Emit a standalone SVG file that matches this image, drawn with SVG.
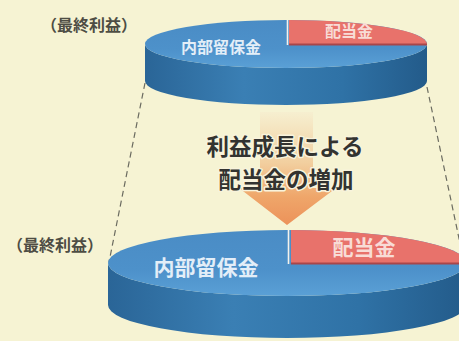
<svg xmlns="http://www.w3.org/2000/svg" width="459" height="341" viewBox="0 0 459 341">
<defs>
<linearGradient id="side" x1="0" y1="0" x2="1" y2="0">
<stop offset="0" stop-color="#2a6597"/>
<stop offset="0.35" stop-color="#3a7fb4"/>
<stop offset="0.7" stop-color="#2f72a6"/>
<stop offset="1" stop-color="#235b8a"/>
</linearGradient>
<linearGradient id="topface" x1="0" y1="0" x2="0" y2="1">
<stop offset="0" stop-color="#4a8cc5"/>
<stop offset="0.6" stop-color="#4d91ca"/>
<stop offset="1" stop-color="#5aa0d6"/>
</linearGradient>
<linearGradient id="arrowg" x1="0" y1="0" x2="0" y2="1">
<stop offset="0" stop-color="#f6efd0"/>
<stop offset="0.45" stop-color="#f2cf9f"/>
<stop offset="0.75" stop-color="#efa66a"/>
<stop offset="1" stop-color="#ec925a"/>
</linearGradient>
<style>
.bg{fill:#f6f3d3}
.side{fill:url(#side)}
.face{fill:url(#topface)}
.red{fill:#e8726b}
.redEdge{stroke:#a9464a;stroke-width:2}
.gap{stroke:#f4f2ec;stroke-width:1.6}
.dash{fill:none;stroke:#6b6b60;stroke-width:1.2;stroke-dasharray:6 4}
.cap{font-family:"Noto Sans CJK JP","Noto Sans CJK SC",sans-serif;font-weight:bold;font-size:16px;fill:#4e4d44}
.blueT{font-family:"Noto Sans CJK JP","Noto Sans CJK SC",sans-serif;font-weight:bold;fill:#e3eef8;text-anchor:middle}
.redT{font-family:"Noto Sans CJK JP","Noto Sans CJK SC",sans-serif;font-weight:bold;fill:#f8dcd6;text-anchor:middle}
.main{font-family:"Noto Sans CJK JP","Noto Sans CJK SC",sans-serif;font-weight:bold;font-size:22.5px;fill:#333330;text-anchor:middle;stroke:#f8f3dc;stroke-width:3;paint-order:stroke;stroke-linejoin:round}
</style>
</defs>
<rect class="bg" x="0" y="0" width="459" height="341"/>

<g id="connectors">
<line class="dash" x1="145" y1="83" x2="109" y2="262"/>
<line class="dash" x1="427" y1="87" x2="464" y2="262"/>
</g>

<g id="arrow">
<path d="M260 112 H313 V188 H336 L287 225 L239 188 H260 Z" fill="url(#arrowg)"/>
</g>

<g id="top-disk">
<path class="side" d="M145 44 V81 A141 24 0 0 0 427 81 V44 A141 24 0 0 1 145 44 Z"/>
<ellipse class="face" cx="286" cy="44" rx="141" ry="24"/>
<path class="red" d="M289 44 V20 A141 24 0 0 1 427 44 Z"/>
<line class="redEdge" x1="289" y1="44.5" x2="427" y2="44.5"/>
<line class="gap" x1="287.5" y1="20" x2="287.5" y2="45"/>
<text class="blueT" x="221" y="53" font-size="16">内部留保金</text>
<text class="redT" x="349" y="37" font-size="16">配当金</text>
</g>

<g id="bottom-disk">
<path class="side" d="M108 263 V305 A179 33 0 0 0 466 305 V263 A179 33 0 0 1 108 263 Z"/>
<ellipse class="face" cx="287" cy="263" rx="179" ry="33"/>
<path class="red" d="M291 263 V230 A179 33 0 0 1 466 263 Z"/>
<line class="redEdge" x1="291" y1="263.5" x2="466" y2="263.5"/>
<line class="gap" x1="288.5" y1="230" x2="288.5" y2="264"/>
<text class="blueT" x="206" y="275" font-size="21">内部留保金</text>
<text class="redT" x="364" y="255" font-size="21">配当金</text>
</g>

<g id="labels">
<text class="cap" x="41" y="31">（最終利益）</text>
<text class="cap" x="7" y="251">（最終利益）</text>
<text class="main" x="285" y="155">利益成長による</text>
<text class="main" x="286" y="188">配当金の増加</text>
</g>
</svg>
